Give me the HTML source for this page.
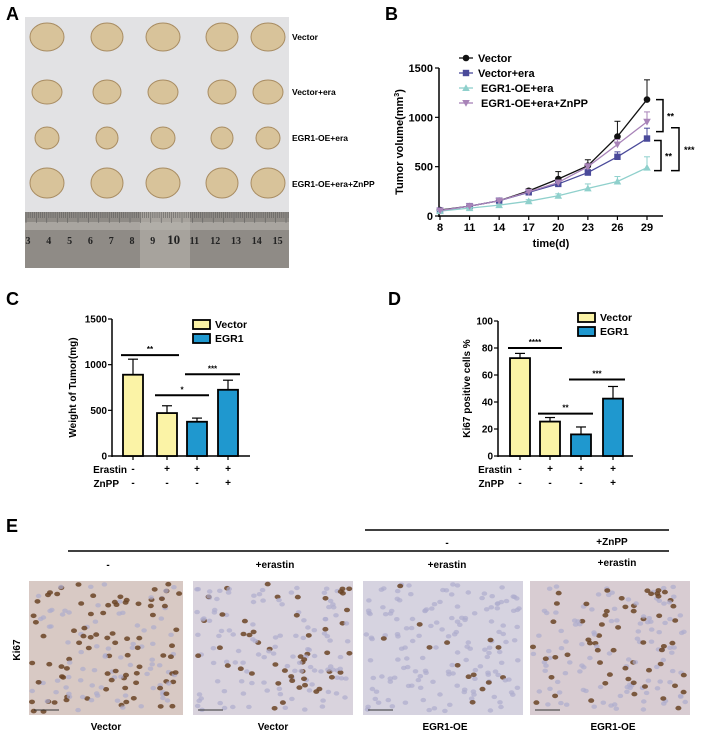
<!DOCTYPE html>
<html><head><meta charset="utf-8"><style>
body{margin:0;background:#fff}
svg{display:block;font-family:"Liberation Sans",Arial,sans-serif}
</style></head><body>
<svg id="fig" width="701" height="736" viewBox="0 0 701 736" xmlns="http://www.w3.org/2000/svg">
<g id="panelA">
<text x="6" y="20" font-size="18" font-weight="bold">A</text>
<rect x="25" y="17" width="264" height="195" fill="#e2e2e4"/>
<rect x="25" y="212" width="264" height="56" fill="#8f8b86"/>
<rect x="25" y="222" width="264" height="8" fill="#a9a5a0"/>
<rect x="140" y="212" width="50" height="56" fill="#b8b4ae" opacity="0.6"/>
<text x="292" y="40" font-size="8.5" font-weight="bold">Vector</text>
<text x="292" y="95" font-size="8.5" font-weight="bold">Vector+era</text>
<text x="292" y="141" font-size="8.5" font-weight="bold">EGR1-OE+era</text>
<text x="292" y="187" font-size="8.5" font-weight="bold">EGR1-OE+era+ZnPP</text>
</g>
<g id="panelB">
<text x="385" y="20" font-size="18" font-weight="bold">B</text>
</g>
<g id="panelC">
<text x="6" y="305" font-size="18" font-weight="bold">C</text>
</g>
<g id="panelD">
<text x="388" y="305" font-size="18" font-weight="bold">D</text>
</g>
<g id="panelE">
<text x="6" y="532" font-size="18" font-weight="bold">E</text>
<line x1="365" y1="530" x2="669" y2="530" stroke="#000" stroke-width="1.5"/>
<line x1="68" y1="551" x2="669" y2="551" stroke="#000" stroke-width="1.5"/>
<text x="447" y="546" font-size="10" font-weight="bold" text-anchor="middle">-</text>
<text x="612" y="545" font-size="10" font-weight="bold" text-anchor="middle">+ZnPP</text>
<text x="108" y="568" font-size="10" font-weight="bold" text-anchor="middle">-</text>
<text x="275" y="568" font-size="10" font-weight="bold" text-anchor="middle">+erastin</text>
<text x="447" y="568" font-size="10" font-weight="bold" text-anchor="middle">+erastin</text>
<text x="617" y="566" font-size="10" font-weight="bold" text-anchor="middle">+erastin</text>
<text x="20" y="650" font-size="10" font-weight="bold" text-anchor="middle" transform="rotate(-90 20 650)">Ki67</text>
<text x="106" y="730" font-size="10" font-weight="bold" text-anchor="middle">Vector</text>
<text x="273" y="730" font-size="10" font-weight="bold" text-anchor="middle">Vector</text>
<text x="445" y="730" font-size="10" font-weight="bold" text-anchor="middle">EGR1-OE</text>
<text x="613" y="730" font-size="10" font-weight="bold" text-anchor="middle">EGR1-OE</text>
</g>
</svg>
<script>
// ---------- Panel B data ----------
const daysB = [8, 11, 14, 17, 20, 23, 26, 29];
const vectorB = [60, 100, 155, 255, 375, 510, 805, 1180];
const vectorErrB = [10, 10, 15, 20, 75, 60, 155, 200];
const vectorEraB = [55, 100, 155, 240, 325, 440, 600, 785];
const vectorEraErrB = [8, 10, 12, 15, 25, 30, 50, 105];
const egrEraB = [50, 80, 110, 150, 205, 280, 350, 490];
const egrEraErrB = [6, 8, 10, 15, 20, 45, 50, 110];
const egrZnB = [55, 100, 155, 245, 340, 500, 725, 955];
const egrZnErrB = [8, 10, 12, 18, 25, 30, 50, 100];
const yTicksB = [0, 500, 1000, 1500];
// ---------- Panel C data ----------
const groupsC = ["Vector", "Vector+era", "EGR1+era", "EGR1+era+ZnPP"];
const weightC = [890, 470, 375, 725];
const weightErrC = [170, 80, 40, 105];
const yTicksC = [0, 500, 1000, 1500];
// ---------- Panel D data ----------
const ki67D = [72.5, 25.5, 16, 42.5];
const ki67ErrD = [3.5, 3, 5.5, 9];
const yTicksD = [0, 20, 40, 60, 80, 100];
const erastinRow = ["-", "+", "+", "+"];
const znppRow = ["-", "-", "-", "+"];

const NS = "http://www.w3.org/2000/svg";
function mk(parent, tag, attrs, text) {
  const e = document.createElementNS(NS, tag);
  for (const k in attrs) e.setAttribute(k, attrs[k]);
  if (text !== undefined) e.textContent = text;
  parent.appendChild(e);
  return e;
}
// ---------- Panel A decorations ----------
const pA = document.getElementById("panelA");
const tumorRowsY = [37, 92, 138, 183];
const tumorColsX = [47, 107, 163, 222, 268];
const tumorR = [[17, 14], [15, 12], [12, 11], [17, 15]];
tumorRowsY.forEach((cy, r) => {
  tumorColsX.forEach((cx, c) => {
    const t = mk(pA, "ellipse", {cx: cx, cy: cy, rx: tumorR[r][0] - (c % 2), ry: tumorR[r][1], fill: "#d8c39a", stroke: "#a88c62", "stroke-width": 1});
    
    
  });
});
for (let i = 0; i < 13; i++) {
  const n = mk(pA, "text", {x: 28 + i * 20.8, y: 244, "font-size": i === 7 ? 13 : 10, "font-family": "Liberation Serif, serif", "font-weight": "bold", fill: "#222", "text-anchor": "middle"}, String(3 + i));
  
  
}
for (let x = 26; x < 289; x += 2.08) {
  mk(pA, "line", {x1: x, y1: 212, x2: x, y2: 218 + ((Math.round((x - 26) / 2.08) % 5 === 0) ? 5 : 0), stroke: "#555", "stroke-width": 0.5});
}
// ---------- Panel B ----------
const pB = document.getElementById("panelB");
const bx0 = 439, bx1 = 663, by0 = 216, by1 = 68;
const xB = d => 440 + (d - 8) / 21 * (647 - 440);
const yB = v => by0 - v / 1500 * (by0 - by1);
let ax = mk(pB, "line", {x1: bx0, y1: by1, x2: bx0, y2: by0 + 1, stroke: "#000", "stroke-width": 1.5});
 
ax = mk(pB, "line", {x1: bx0, y1: by0, x2: bx1, y2: by0, stroke: "#000", "stroke-width": 1.5});
 
yTicksB.forEach(t => {
  mk(pB, "line", {x1: bx0 - 4, y1: yB(t), x2: bx0, y2: yB(t), stroke: "#000", "stroke-width": 1.2});
  const l = mk(pB, "text", {x: bx0 - 6, y: yB(t) + 4, "font-size": 11, "font-weight": "bold", "text-anchor": "end"}, String(t));
   
});
daysB.forEach(d => {
  mk(pB, "line", {x1: xB(d), y1: by0, x2: xB(d), y2: by0 + 4, stroke: "#000", "stroke-width": 1.2});
  const l = mk(pB, "text", {x: xB(d), y: by0 + 15, "font-size": 11, "font-weight": "bold", "text-anchor": "middle"}, String(d));
   
});
let tl = mk(pB, "text", {x: 551, y: 247, "font-size": 11, "font-weight": "bold", "text-anchor": "middle"}, "time(d)");
 
tl = mk(pB, "text", {x: 0, y: 0, "font-size": 11, "font-weight": "bold", "text-anchor": "middle", transform: "translate(403 142) rotate(-90)"});
 
tl.innerHTML = 'Tumor volume(mm<tspan font-size="7" dy="-4">3</tspan><tspan dy="4">)</tspan>';
const seriesB = [
  {name: "Vector", vals: vectorB, err: vectorErrB, color: "#111", marker: "circle"},
  {name: "Vector+era", vals: vectorEraB, err: vectorEraErrB, color: "#4a4a9a", marker: "square"},
  {name: "EGR1-OE+era", vals: egrEraB, err: egrEraErrB, color: "#8fd0cc", marker: "tri"},
  {name: "EGR1-OE+era+ZnPP", vals: egrZnB, err: egrZnErrB, color: "#a883b8", marker: "tridown"}
];
function marker(g, type, x, y, color) {
  if (type === "circle") return mk(g, "circle", {cx: x, cy: y, r: 3.3, fill: color});
  if (type === "square") return mk(g, "rect", {x: x - 3.2, y: y - 3.2, width: 6.4, height: 6.4, fill: color});
  if (type === "tri") return mk(g, "polygon", {points: `${x},${y - 3.8} ${x - 3.8},${y + 3} ${x + 3.8},${y + 3}`, fill: color});
  return mk(g, "polygon", {points: `${x},${y + 3.8} ${x - 3.8},${y - 3} ${x + 3.8},${y - 3}`, fill: color});
}
seriesB.forEach((s, si) => {
  const g = mk(pB, "g", {});
  
  
  s.vals.forEach((v, i) => {
    const x = xB(daysB[i]);
    mk(g, "line", {x1: x, y1: yB(v), x2: x, y2: yB(v + s.err[i]), stroke: s.color, "stroke-width": 1});
    mk(g, "line", {x1: x - 3, y1: yB(v + s.err[i]), x2: x + 3, y2: yB(v + s.err[i]), stroke: s.color, "stroke-width": 1});
  });
  mk(g, "polyline", {points: s.vals.map((v, i) => xB(daysB[i]) + "," + yB(v)).join(" "), fill: "none", stroke: s.color, "stroke-width": 1.3});
  s.vals.forEach((v, i) => {
    const m = marker(g, s.marker, xB(daysB[i]), yB(v), s.color);
    
    
  });
  const ly = 58 + si * 15;
  const le = mk(pB, "g", {});
  
  
  mk(le, "line", {x1: 459, y1: ly, x2: 473, y2: ly, stroke: s.color, "stroke-width": 1.3});
  marker(le, s.marker, 466, ly, s.color);
  mk(le, "text", {x: 478 + (si >= 2 ? 3 : 0), y: ly + 4, "font-size": 11, "font-weight": "bold"}, s.name);
});
function bracket(g, x, yTop, yBot, w, label, lx) {
  mk(g, "polyline", {points: `${x},${yTop} ${x + w},${yTop} ${x + w},${yBot} ${x},${yBot}`, fill: "none", stroke: "#000", "stroke-width": 1.5});
  mk(g, "text", {x: lx, y: (yTop + yBot) / 2 + 4, "font-size": 9, "font-weight": "bold"}, label);
}
let br = mk(pB, "g", {});  
bracket(br, 656, yB(vectorB[7]), yB(vectorEraB[7] + 70), 7, "**", 667);
br = mk(pB, "g", {});  
bracket(br, 654, yB(vectorEraB[7] - 20), yB(egrEraB[7] - 30), 7, "**", 665);
br = mk(pB, "g", {});  
bracket(br, 671, yB(egrZnB[7] - 60), yB(egrEraB[7] - 30), 8, "***", 684);

// ---------- Bar charts ----------
function barChart(gid, opt) {
  const p = document.getElementById(gid);
  const y = v => opt.y0 - v / opt.max * (opt.y0 - opt.y1);
  let a = mk(p, "line", {x1: opt.ax, y1: opt.y1, x2: opt.ax, y2: opt.y0 + 1, stroke: "#000", "stroke-width": 1.5});
   
  a = mk(p, "line", {x1: opt.ax, y1: opt.y0, x2: opt.axEnd, y2: opt.y0, stroke: "#000", "stroke-width": 1.5});
   
  opt.ticks.forEach(t => {
    mk(p, "line", {x1: opt.ax - 4, y1: y(t), x2: opt.ax, y2: y(t), stroke: "#000", "stroke-width": 1.2});
    const l = mk(p, "text", {x: opt.ax - 5, y: y(t) + 3.5, "font-size": 10, "font-weight": "bold", "text-anchor": "end"}, String(t));
     
  });
  const t = mk(p, "text", {x: 0, y: 0, "font-size": 10, "font-weight": "bold", "text-anchor": "middle", transform: `translate(${opt.titleX} ${(opt.y0 + opt.y1) / 2}) rotate(-90)`}, opt.title);
   
  const colors = ["#fbf3a6", "#fbf3a6", "#1f98cf", "#1f98cf"];
  opt.vals.forEach((v, i) => {
    const cx = opt.centers[i];
    const top = y(v + opt.err[i]);
    mk(p, "line", {x1: cx, y1: y(v), x2: cx, y2: top, stroke: "#000", "stroke-width": 1.2});
    mk(p, "line", {x1: cx - 5, y1: top, x2: cx + 5, y2: top, stroke: "#000", "stroke-width": 1.2});
    mk(p, "line", {x1: cx, y1: opt.y0, x2: cx, y2: opt.y0 + 4, stroke: "#000", "stroke-width": 1.2});
    const b = mk(p, "rect", {x: cx - opt.bw / 2, y: y(v), width: opt.bw, height: opt.y0 - y(v), fill: colors[i], stroke: "#000", "stroke-width": 1.8});
    
    
    mk(p, "text", {x: cx, y: opt.y0 + 16, "font-size": 10, "font-weight": "bold", "text-anchor": "middle"}, erastinRow[i]);
    mk(p, "text", {x: cx, y: opt.y0 + 30, "font-size": 10, "font-weight": "bold", "text-anchor": "middle"}, znppRow[i]);
  });
  let l = mk(p, "text", {x: opt.rowX, y: opt.y0 + 17, "font-size": 10, "font-weight": "bold", "text-anchor": "end"}, "Erastin");
   
  l = mk(p, "text", {x: opt.rowX - 8, y: opt.y0 + 31, "font-size": 10, "font-weight": "bold", "text-anchor": "end"}, "ZnPP");
   
  opt.sig.forEach(s => {
    const g = mk(p, "g", {});
    
    
    mk(g, "line", {x1: opt.centers[s[0]] - 12, y1: y(s[2]), x2: opt.centers[s[1]] + 12, y2: y(s[2]), stroke: "#000", "stroke-width": 2});
    mk(g, "text", {x: (opt.centers[s[0]] + opt.centers[s[1]]) / 2, y: y(s[2]) - 3, "font-size": 8, "font-weight": "bold", "text-anchor": "middle"}, s[3]);
  });
  [["Vector", "#fbf3a6"], ["EGR1", "#1f98cf"]].forEach((e, i) => {
    const g = mk(p, "g", {});
    
    
    mk(g, "rect", {x: opt.legX, y: opt.legY + i * 14 - 4, width: 17, height: 9, fill: e[1], stroke: "#000", "stroke-width": 1.8});
    mk(g, "text", {x: opt.legX + 22, y: opt.legY + i * 14 + 4, "font-size": 10.5, "font-weight": "bold"}, e[0]);
  });
}
barChart("panelC", {ax: 112, axEnd: 250, y0: 456, y1: 319, max: 1500, ticks: yTicksC, vals: weightC, err: weightErrC,
  centers: [133, 167, 197, 228], bw: 20, title: "Weight of Tumor(mg)", titleX: 76, rowX: 127,
  sig: [[0, 1, 1105, "**"], [1, 2, 665, "*"], [2, 3, 895, "***"]], legX: 193, legY: 324});
barChart("panelD", {ax: 498, axEnd: 633, y0: 456, y1: 321, max: 100, ticks: yTicksD, vals: ki67D, err: ki67ErrD,
  centers: [520, 550, 581, 613], bw: 20, title: "Ki67 positive cells %", titleX: 470, rowX: 512,
  sig: [[0, 1, 80, "****"], [1, 2, 31.4, "**"], [2, 3, 56.7, "***"]], legX: 578, legY: 317});

// ---------- Panel E IHC images (decorative texture) ----------
const pE = document.getElementById("panelE");
const imgX = [[29, 183], [193, 353], [363, 523], [530, 690]];
const density = [0.55, 0.25, 0.08, 0.35];
const bgE = ["#d8c9c4", "#d9d3dd", "#d6d3e0", "#d8ccd2"];
let seed = 7;
function rnd() { seed = (seed * 16807) % 2147483647; return seed / 2147483647; }
imgX.forEach((r, k) => {
  const g = mk(pE, "g", {});
  
  
  mk(g, "rect", {x: r[0], y: 581, width: r[1] - r[0], height: 134, fill: bgE[k]});
  for (let n = 0; n < 170; n++) {
    const x = r[0] + 3 + rnd() * (r[1] - r[0] - 6), y = 584 + rnd() * 128;
    const brown = rnd() < density[k];
    mk(g, "ellipse", {cx: x.toFixed(1), cy: y.toFixed(1), rx: brown ? 3 : 2.8, ry: brown ? 2.3 : 2.2,
      fill: brown ? "#6b4426" : "#aeaccd", opacity: brown ? 0.85 : 0.7});
  }
  mk(g, "line", {x1: r[0] + 5, y1: 710, x2: r[0] + 30, y2: 710, stroke: "#333", "stroke-width": 1});
});
</script>
</body></html>
